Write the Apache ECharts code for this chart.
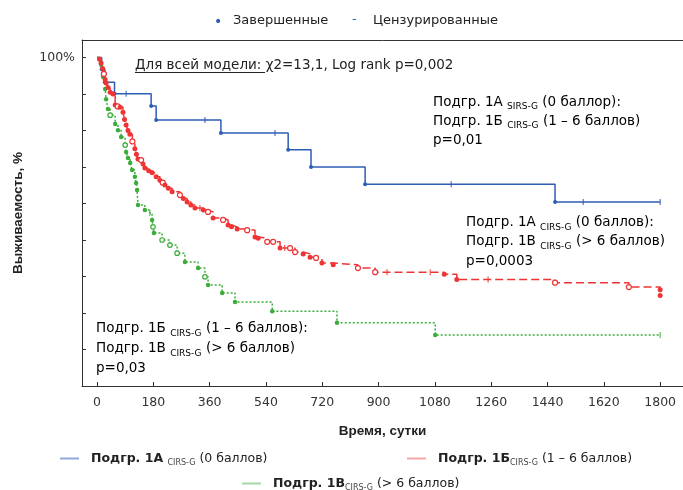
<!DOCTYPE html>
<html>
<head>
<meta charset="utf-8">
<script src="https://cdn.jsdelivr.net/npm/echarts@6/dist/echarts.min.js"></script>
<style>
  html, body { margin: 0; padding: 0; background: #fff; }
  #chart { width: 683px; height: 490px; }
</style>
</head>
<body>
<div id="chart"></div>
<script>
// ticks
const dayTicks = [0, 180, 360, 540, 720, 900, 1080, 1260, 1440, 1620, 1800];
const pctTicks = [20, 30, 40, 50, 60, 70, 80, 90, 100];

// [day, survival %, mark]  e = завершенный, o = завершенный (светлый), c = цензурированный, n = без метки
const groupA = [
  [0, 100, 'n'], [15, 96.8, 'e'], [25, 93.2, 'e'], [56, 90.1, 'e'], [93, 90.1, 'c'],
  [173, 86.7, 'e'], [189, 82.9, 'e'], [345, 82.9, 'c'], [396, 79.3, 'e'], [569, 79.3, 'c'],
  [611, 74.7, 'e'], [684, 70, 'e'], [857, 65.3, 'e'], [1132, 65.3, 'c'], [1464, 60.4, 'e'],
  [1554, 60.4, 'c'], [1800, 60.4, 'c']
];
const groupB = [
  [0, 100, 'n'], [8, 99.5, 'e'], [13, 98.5, 'e'], [18, 97, 'e'], [22, 95.5, 'o'], [26, 94, 'e'],
  [29, 93, 'e'], [35, 91.8, 'e'], [42, 90.5, 'e'], [51, 90, 'e'], [58, 87, 'e'], [66, 86.6, 'o'],
  [74, 86.4, 'e'], [83, 85, 'e'], [88, 83, 'e'], [93, 81.5, 'e'], [99, 80, 'e'], [105, 79, 'e'],
  [113, 77, 'o'], [121, 75, 'e'], [126, 73.5, 'e'], [131, 72.2, 'e'], [141, 71.9, 'o'],
  [147, 70.8, 'e'], [153, 69.7, 'e'], [165, 69, 'e'], [176, 68.4, 'e'], [189, 67.3, 'e'],
  [201, 66.4, 'e'], [210, 65.7, 'o'], [217, 65.1, 'e'], [228, 64.2, 'e'], [240, 63.2, 'e'],
  [265, 62.3, 'o'], [276, 61.4, 'e'], [288, 60.4, 'e'], [300, 59.6, 'e'], [313, 58.8, 'e'],
  [329, 58.8, 'c'], [340, 58.2, 'e'], [355, 57.7, 'o'], [371, 56, 'e'], [403, 55.5, 'o'],
  [419, 54.1, 'e'], [430, 53.6, 'e'], [448, 53, 'e'], [480, 52.7, 'o'], [505, 50.8, 'e'],
  [515, 50.5, 'e'], [544, 49.5, 'o'], [563, 49.5, 'o'], [585, 47.8, 'e'], [600, 47.8, 'c'],
  [617, 47.8, 'o'], [633, 46.7, 'o'], [659, 46.2, 'e'], [681, 45.3, 'e'], [700, 45.1, 'o'],
  [719, 43.7, 'e'], [755, 43.2, 'e'], [834, 42.3, 'o'], [889, 41.2, 'o'], [927, 41.2, 'c'],
  [1065, 41.2, 'c'], [1110, 40.6, 'e'], [1150, 39.2, 'e'], [1250, 39.2, 'c'], [1464, 38.3, 'o'],
  [1700, 37.1, 'o'], [1800, 36.4, 'e'], [1800, 34.8, 'e']
];
const groupC = [
  [0, 100, 'n'], [13, 98, 'e'], [19, 94.7, 'e'], [26, 91.4, 'e'], [29, 88.6, 'e'], [35, 85.9, 'e'],
  [42, 84.2, 'o'], [58, 81.8, 'e'], [67, 80.1, 'e'], [77, 78.2, 'e'], [90, 76, 'o'], [93, 74.1, 'e'],
  [99, 72.5, 'e'], [106, 71.1, 'e'], [112, 69.2, 'e'], [121, 67.3, 'e'], [125, 65.6, 'e'],
  [128, 63.7, 'e'], [131, 59.6, 'e'], [153, 58.2, 'e'], [169, 57.4, 'c'], [176, 55.5, 'e'],
  [179, 53.6, 'o'], [182, 51.9, 'e'], [208, 50, 'o'], [233, 48.6, 'o'], [256, 46.4, 'o'],
  [281, 44, 'e'], [323, 42.3, 'e'], [345, 39.9, 'o'], [355, 37.7, 'e'], [400, 35.5, 'e'],
  [441, 33, 'e'], [560, 30.5, 'e'], [767, 27.3, 'e'], [1081, 24, 'e'], [1800, 24, 'c']
];

const names = ['Подгр. 1А', 'Подгр. 1Б', 'Подгр. 1В'];
const legendLabels = {
  'Подгр. 1А': '{b|Подгр. 1А }{s|CIRS-G}{n| (0 баллов)}',
  'Подгр. 1Б': '{b|Подгр. 1Б}{s|CIRS-G}{n| (1 – 6 баллов)}',
  'Подгр. 1В': '{b|Подгр. 1В}{s|CIRS-G}{n| (> 6 баллов)}'
};

const TXT = '"DejaVu Sans", sans-serif';
const AX = '"Liberation Sans", Arial, sans-serif';
const colors = ['#2e5db4', '#ee3434', '#3aad3a'];
const legendColors = ['#93a9d8', '#f5a7a7', '#a6d6a6'];
const X_MIN = -48, X_MAX = 1873;

function marks(rows, color, size) {
  return rows.map(function (r) {
    const item = { value: [r[0], r[1]] };
    if (r[2] === 'n') item.symbol = 'none';
    else if (r[2] === 'c') { item.symbol = 'rect'; item.symbolSize = [1, 6]; }
    else if (r[2] === 'o') { item.symbol = 'circle'; item.symbolSize = size; item.itemStyle = { color: '#fff', borderColor: color, borderWidth: 1.2 }; }
    else { item.symbol = 'circle'; item.symbolSize = size; }
    return item;
  });
}

function kmSeries(name, rows, color, dash, size) {
  return {
    name: name,
    type: 'line',
    step: 'end',
    data: marks(rows, color, size),
    showSymbol: true,
    showAllSymbol: true,
    color: color,
    itemStyle: { color: color },
    lineStyle: { color: color, width: 1.5, type: dash },
    animation: false,
    z: 3
  };
}

function redBlock(lines, lh) {
  return {
    text: lines.join('\n'),
    rich: {
      a: { fontFamily: TXT, fontSize: 13.5, lineHeight: lh, color: '#ef4848' },
      s: { fontFamily: TXT, fontSize: 9, lineHeight: lh - 4, verticalAlign: 'bottom', color: '#ef4848' }
    }
  };
}

const chart = echarts.init(document.getElementById('chart'), null, { renderer: 'canvas' });
chart.setOption({
  backgroundColor: '#fff',
  textStyle: { fontFamily: TXT },
  grid: { left: 82, right: 0, top: 40, bottom: 104 },
  xAxis: [{
    type: 'value',
    min: X_MIN,
    max: X_MAX,
    name: 'Время, сутки',
    nameLocation: 'middle',
    nameGap: 38,
    nameTextStyle: { fontFamily: AX, fontSize: 13.5, fontWeight: 'bold', color: '#222' },
    axisLine: { show: true, onZero: false, lineStyle: { color: '#333', width: 1 } },
    axisTick: { show: true, inside: true, length: 4, customValues: dayTicks, lineStyle: { color: '#333' } },
    axisLabel: { customValues: dayTicks, formatter: function (v) { return String(v); }, fontFamily: TXT, fontSize: 12.5, color: '#333', margin: 10 },
    splitLine: { show: false }
  }, {
    // верхняя рамка
    type: 'value',
    position: 'top',
    min: X_MIN,
    max: X_MAX,
    axisLine: { show: true, onZero: false, lineStyle: { color: '#333', width: 1 } },
    axisTick: { show: false },
    axisLabel: { show: false },
    splitLine: { show: false }
  }],
  yAxis: {
    type: 'value',
    min: 10,
    max: 104.8,
    name: 'Выживаемость, %',
    nameLocation: 'middle',
    nameRotate: 90,
    nameGap: 57,
    nameTextStyle: { fontFamily: AX, fontSize: 13.5, fontWeight: 'bold', color: '#222' },
    axisLine: { show: true, onZero: false, lineStyle: { color: '#333', width: 1 } },
    axisTick: { show: true, inside: true, length: 4, customValues: pctTicks, lineStyle: { color: '#333' } },
    axisLabel: { customValues: [100], formatter: '{value}%', fontFamily: TXT, fontSize: 12.5, color: '#333', margin: 7 },
    splitLine: { show: false }
  },
  legend: names.map(function (n, i) {
    const pos = [[60, 452], [407, 452], [242, 477]][i];
    return {
      left: pos[0],
      top: pos[1],
      padding: 0,
      icon: 'rect',
      itemWidth: 19,
      itemHeight: 2,
      selectedMode: false,
      data: [{ name: n, itemStyle: { color: legendColors[i] } }],
      formatter: function (name) { return legendLabels[name]; },
      textStyle: {
        rich: {
          b: { fontFamily: TXT, fontSize: 12.5, fontWeight: 'bold', color: '#222', lineHeight: 16, padding: [0, 0, 0, 7] },
          s: { fontFamily: TXT, fontSize: 8, color: '#444', lineHeight: 13, verticalAlign: 'bottom' },
          n: { fontFamily: TXT, fontSize: 12.5, color: '#222', lineHeight: 16 }
        }
      }
    };
  }),
  graphic: [
    { type: 'text', left: 214, top: 15, style: { text: '•', font: '14px ' + TXT, fill: colors[0] } },
    { type: 'text', left: 233, top: 14, style: { text: 'Завершенные', font: '13px ' + TXT, fill: '#222' } },
    { type: 'text', left: 352, top: 13, style: { text: '-', font: '13px ' + TXT, fill: colors[0] } },
    { type: 'text', left: 373, top: 14, style: { text: 'Цензурированные', font: '13px ' + TXT, fill: '#222' } },
    { type: 'text', left: 135, top: 58, style: { text: 'Для всей модели: χ2=13,1, Log rank p=0,002', font: '13.5px ' + TXT, fill: '#222' } },
    { type: 'line', shape: { x1: 135, y1: 72.5, x2: 265, y2: 72.5 }, style: { stroke: '#222', lineWidth: 1 } },
    { type: 'text', left: 433, top: 95, style: redBlock([
      '{a|Подгр. 1А }{s|SIRS-G}{a| (0 баллор):}',
      '{a|Подгр. 1Б }{s|CIRS-G}{a| (1 – 6 баллов)}',
      '{a|p=0,01}'], 19) },
    { type: 'text', left: 466, top: 215, style: redBlock([
      '{a|Подгр. 1А }{s|CIRS-G}{a| (0 баллов):}',
      '{a|Подгр. 1В }{s|CIRS-G}{a| (> 6 баллов)}',
      '{a|p=0,0003}'], 19.5) },
    { type: 'text', left: 96, top: 321, style: redBlock([
      '{a|Подгр. 1Б }{s|CIRS-G}{a| (1 – 6 баллов):}',
      '{a|Подгр. 1В }{s|CIRS-G}{a| (> 6 баллов)}',
      '{a|p=0,03}'], 20) }
  ],
  series: [
    kmSeries(names[0], groupA, colors[0], 'solid', 4),
    kmSeries(names[2], groupC, colors[2], [2, 2], 4.5),
    kmSeries(names[1], groupB, colors[1], [8, 4], 5)
  ]
});
</script>
</body>
</html>
